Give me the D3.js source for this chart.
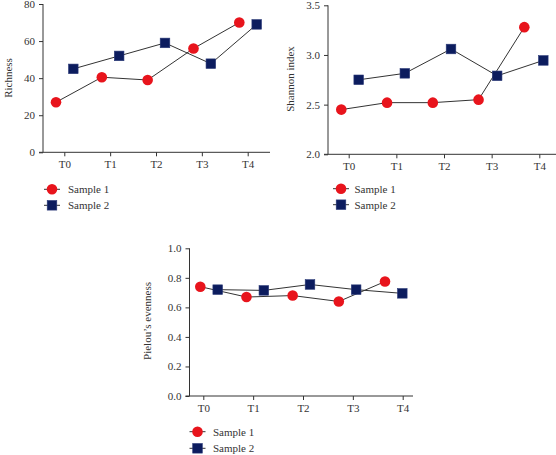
<!DOCTYPE html>
<html>
<head>
<meta charset="utf-8">
<script src="https://cdn.jsdelivr.net/npm/d3@7"></script>
<style>
  body { margin: 0; background: #fff; }
  svg { display: block; }
  text { font-family: "Liberation Serif", "Times New Roman", serif; fill: #333; }
</style>
</head>
<body>
<svg id="chart" width="556" height="455"></svg>
<script>
// ---- data ----
const categories = ["T0", "T1", "T2", "T3", "T4"];
const seriesNames = ["Sample 1", "Sample 2"];

const richnessS1 = [27, 40.5, 39, 56, 70];
const richnessS2 = [45, 52, 59, 47.8, 69];
const richnessTicks = [0, 20, 40, 60, 80];

const shannonS1 = [2.45, 2.52, 2.52, 2.55, 3.28];
const shannonS2 = [2.75, 2.815, 3.06, 2.79, 2.945];
const shannonTicks = [2.0, 2.5, 3.0, 3.5];

const pielouS1 = [0.74, 0.67, 0.68, 0.64, 0.775];
const pielouS2 = [0.72, 0.715, 0.755, 0.72, 0.695];
const pielouTicks = [0.0, 0.2, 0.4, 0.6, 0.8, 1.0];

// ---- styling / layout ----
const RED = "#e8141c";
const NAVY = "#0c1c5e";
const INK = "#333";

const panels = [
  {
    label: "Richness", s1: richnessS1, s2: richnessS2, ticks: richnessTicks,
    fmt: d3.format("d"), domain: [0, 80],
    axisX: 43, yRange: [152.3, 4], xEnd: 270,
    tickRange: [64.3, 247.7], s1Range: [56, 239.3], s2Range: [73.3, 256.7],
    labelX: 8, labelY: 78,
    legX: 52, legText: 68, legY: [189.3, 205.3]
  },
  {
    label: "Shannon index", s1: shannonS1, s2: shannonS2, ticks: shannonTicks,
    fmt: d3.format(".1f"), domain: [2.0, 3.5],
    axisX: 328, yRange: [154.3, 5.3], xEnd: 556,
    tickRange: [348.7, 539.3], s1Range: [341.3, 524.3], s2Range: [358.7, 543.3],
    labelX: 290, labelY: 79,
    legX: 341, legText: 354.5, legY: [188.7, 204.7]
  },
  {
    label: "Pielou\u2019s evenness", s1: pielouS1, s2: pielouS2, ticks: pielouTicks,
    fmt: d3.format(".1f"), domain: [0, 1.0],
    axisX: 189.5, yRange: [396, 248.3], xEnd: 413,
    tickRange: [203.3, 402.7], s1Range: [200.3, 385], s2Range: [217.7, 402.3],
    labelX: 147, labelY: 321,
    legX: 197.5, legText: 213, legY: [431.7, 448.3]
  }
];

const svg = d3.select("#chart");

function drawMarker(g, type, x, y) {
  if (type === 0) {
    g.append("circle").attr("cx", x).attr("cy", y).attr("r", 5.3)
      .attr("fill", RED);
  } else {
    g.append("rect").attr("x", x - 4.8).attr("y", y - 4.8)
      .attr("width", 9.6).attr("height", 9.6)
      .attr("fill", NAVY).attr("stroke", "#2b3a78").attr("stroke-width", 0.6);
  }
}

panels.forEach(p => {
  const g = svg.append("g");
  const y = d3.scaleLinear().domain(p.domain).range(p.yRange);
  const xTick = d3.scalePoint().domain(categories).range(p.tickRange);
  const xS = [
    d3.scalePoint().domain(categories).range(p.s1Range),
    d3.scalePoint().domain(categories).range(p.s2Range)
  ];
  const y0 = p.yRange[0];

  // y axis
  const yAxis = d3.axisLeft(y).tickValues(p.ticks).tickFormat(p.fmt)
    .tickSize(4).tickPadding(4);
  const ya = g.append("g").attr("transform", `translate(${p.axisX},0)`).call(yAxis);
  ya.select(".domain").remove();
  ya.append("line").attr("x1", 0).attr("x2", 0)
    .attr("y1", p.yRange[1]).attr("y2", y0).attr("stroke", INK);
  ya.selectAll(".tick line").attr("stroke", INK);
  ya.selectAll(".tick text").attr("fill", INK)
    .style("font-family", "Liberation Serif, serif").style("font-size", "11px");

  // x axis
  const xAxis = d3.axisBottom(xTick).tickSize(4).tickPadding(4);
  const xa = g.append("g").attr("transform", `translate(0,${y0})`).call(xAxis);
  xa.select(".domain").remove();
  xa.append("line").attr("x1", p.axisX - 4).attr("x2", p.xEnd)
    .attr("y1", 0).attr("y2", 0).attr("stroke", INK);
  xa.selectAll(".tick line").attr("stroke", INK);
  xa.selectAll(".tick text").attr("fill", INK)
    .style("font-family", "Liberation Serif, serif").style("font-size", "11px");

  // y label
  g.append("text")
    .attr("transform", `translate(${p.labelX},${p.labelY}) rotate(-90)`)
    .attr("text-anchor", "middle").attr("dominant-baseline", "central")
    .style("font-size", "11px").text(p.label);

  // series lines + markers
  [p.s1, p.s2].forEach((vals, si) => {
    const line = d3.line().x((d, i) => xS[si](categories[i])).y(d => y(d));
    g.append("path").datum(vals).attr("d", line)
      .attr("fill", "none").attr("stroke", INK).attr("stroke-width", 1);
  });
  [p.s1, p.s2].forEach((vals, si) => {
    vals.forEach((v, i) => drawMarker(g, si, xS[si](categories[i]), y(v)));
  });

  // legend
  seriesNames.forEach((name, si) => {
    const ly = p.legY[si];
    g.append("line").attr("x1", p.legX - 8).attr("x2", p.legX + 8)
      .attr("y1", ly).attr("y2", ly).attr("stroke", INK);
    drawMarker(g, si, p.legX, ly);
    g.append("text").attr("x", p.legText).attr("y", ly)
      .attr("dominant-baseline", "central").style("font-size", "11px").text(name);
  });
});
</script>
</body>
</html>
